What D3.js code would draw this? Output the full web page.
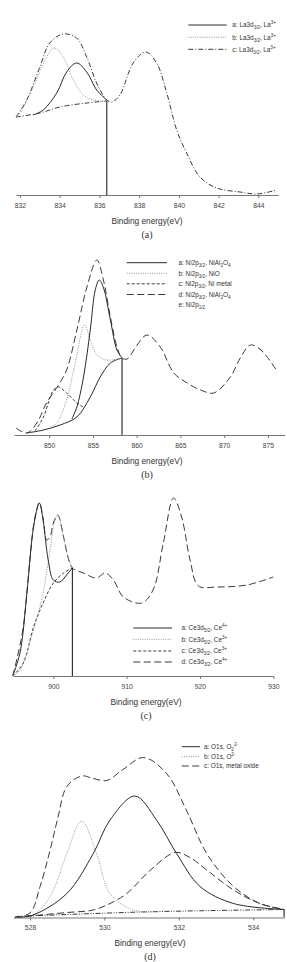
<!DOCTYPE html>
<html><head><meta charset="utf-8">
<script src="https://cdn.jsdelivr.net/npm/d3@7/dist/d3.min.js"></script>
<style>body{margin:0;background:#fff}svg{display:block}</style>
</head><body>
<svg id="c" width="287" height="962"></svg>
<script>
// ---------- Panel (a) La3d ----------
const aEnvX = [831.8,832.34,833.0,833.5,834.18,834.85,835.36,835.86,836.37,836.62,837.03,837.7,838.33,838.88,839.39,839.89,840.39,841.06,841.9,843.08,843.92,844.93];
const aEnvY = [78,95,128,152,161,157,138,112,95,93,100,132,143,132,102,65,42,18,7,3,1,5];
const aBgX = [831.8,833.0,834.0,835.36,836.37];
const aBgY = [78,82,88,92,94];
const aSolX = [832.67,833.17,833.85,834.35,834.85,835.36,835.86,836.37];
const aSolY = [80,85,102,123,132,123,105,95];
const aDotX = [831.8,832.0,832.67,833.34,833.73,834.18,834.68,835.19,835.69,836.37];
const aDotY = [78,82,108,138,147,138,115,100,95,94];
const aCut = 836.37, aCutTop = 94;
const aTicks = [832,834,836,838,840,842,844];
const aLegend = ["a: La3d_{3/2}, La^{3+}","b: La3d_{3/2}, La^{3+}","c: La3d_{3/2}, La^{3+}"];

// ---------- Panel (b) Ni2p ----------
const bEnvX = [846.22,847.45,848.6,849.7,851.07,852.0,853.17,854.32,855.46,856.2,857.0,857.75,858.33,858.9,860.05,861.2,862.7,864.24,865.77,867.3,868.8,870.7,871.9,873.0,874.2,876.1];
const bEnvY = [7,2,12,32,50,65,105,148,175,155,118,88,77,76,90,100,88,62,52,45,42,58,78,90,85,63];
const bSolX = [852.6,853.17,853.93,854.7,855.27,855.73,856.22,857.0,857.75,858.33];
const bSolY = [16,28,58,105,145,155,147,115,85,77];
const bDotX = [850.2,850.88,852.0,852.98,854.04,854.7,855.46,856.6,858.33];
const bDotY = [8,12,35,72,110,95,80,75,77];
const bDashX = [848.4,849.35,850.5,851.07,852.0,853.17,853.9];
const bDashY = [4,18,45,48,42,32,28];
const bBgX = [847.45,849.35,851.26,853.17,854.7,855.84,857.0,858.33];
const bBgY = [2,5,10,18,38,58,72,77];
const bCut = 858.33, bCutTop = 77;
const bTicks = [850,855,860,865,870,875];
const bLegend = ["a: Ni2p_{3/2}, NiAl_{2}O_{4}","b: Ni2p_{3/2}, NiO","c: Ni2p_{3/2}, Ni metal","d: Ni2p_{3/2}, NiAl_{2}O_{4}","e: Ni2p_{1/2}"];

// ---------- Panel (c) Ce3d ----------
const cEnvX = [894.46,895.0,895.9,896.8,897.5,898.1,898.6,899.1,899.55,900.0,900.6,901.4,902.0,902.6,904.1,905.9,907.05,908.2,909.55,912.06,913.6,915.0,916.4,917.5,918.65,919.8,922.3,926.4,930];
const cEnvY = [0,16,49,116,159,173,158,136,139,153,161,139,119,108,103,98,103,96,79,73,86,133,178,159,116,90,89,91,99];
const cSolX = [894.5,895.45,896.4,897.3,898.1,898.6,899.3,900.0,900.9,901.8,902.6];
const cSolY = [1,23,83,149,173,156,116,96,94,101,108];
const cDotX = [894.5,895.45,897.3,898.6,899.55,900.1,900.6,901.4,902.0,902.6];
const cDotY = [0,6,46,83,126,152,161,139,119,108];
const cBgX = [894.46,895.9,897.3,898.6,900.0,901.4,902.6];
const cBgY = [0,13,49,73,93,103,108];
const cCut = 902.6, cCutTop = 108;
const cTicks = [900,910,920,930];
const cLegend = ["a: Ce3d_{5/2}, Ce^{4+}","b: Ce3d_{5/2}, Ce^{3+}","c: Ce3d_{3/2}, Ce^{3+}","d: Ce3d_{3/2}, Ce^{4+}"];

// ---------- Panel (d) O1s ----------
const dEnvX = [527.6,528.0,528.27,528.54,528.75,528.99,529.39,529.7,530.06,530.5,531.05,531.67,532.2,532.75,533.47,534.18,534.83];
const dEnvY = [0,4.5,31,67.5,100,131,141.5,139,137,148,160,144,107.5,64,31,14,8];
const dSolX = [527.6,528.08,528.99,529.7,530.15,530.82,531.4,531.94,532.57,533.47,534.83];
const dSolY = [0,2.5,24,64,97.5,121.5,97.5,64,31,14,8];
const dDotX = [527.6,528.08,528.54,528.99,529.39,529.79,530.15,530.78,531.5];
const dDotY = [0,2.5,21,64,96.5,64,24,7.5,6];
const dDashX = [527.6,528.08,529.0,529.7,530.15,530.6,531.24,531.9,532.3,532.75,533.47,534.18,534.83];
const dDashY = [0,1.8,5,7.5,14,24,47.5,65,60,47.5,27.5,14,8];
const dBgX = [527.6,529.0,531.0,533.0,534.83];
const dBgY = [1,3,5.5,7,8];
const dCut = 534.83, dCutTop = 8;
const dTicks = [528,530,532,534];
const dLegend = ["a: O1s, O_{2}^{2-}","b: O1s, O^{2-}","c: O1s, metal oxide"];

const STY = {
  solid:   {c:"#2a2a2a", d:null, w:1},
  dot:     {c:"#8a8a8a", d:"1,1.3", w:0.9},
  dashdot: {c:"#3a3a3a", d:"5,2,1,2", w:1},
  dashdotdot: {c:"#3a3a3a", d:"5,1.5,1,1.5,1,1.5", w:1},
  sdash:   {c:"#3a3a3a", d:"3,2", w:1},
  ldash:   {c:"#3a3a3a", d:"7,3.5", w:1}
};

const svg = d3.select("#c");

function richText(sel, str){
  const re = /(_\{[^}]*\}|\^\{[^}]*\})/g;
  const parts = str.split(re).filter(s=>s.length);
  parts.forEach(p=>{
    if(p.startsWith("_{")){
      sel.append("tspan").attr("font-size","4.6px").attr("baseline-shift","-1.6").text(p.slice(2,-1));
    } else if(p.startsWith("^{")){
      sel.append("tspan").attr("font-size","4.6px").attr("baseline-shift","2.6").text(p.slice(2,-1));
    } else {
      sel.append("tspan").text(p);
    }
  });
}

function panel(cfg){
  const g = svg.append("g");
  const x = d3.scaleLinear().domain(cfg.domain).range(cfg.xr);
  const y = d3.scaleLinear().domain([0,100]).range([cfg.axisY, cfg.axisY-100]);
  const line = d3.line().x(d=>x(d[0])).y(d=>y(d[1])).curve(d3.curveCatmullRom.alpha(0.5));
  cfg.series.forEach(s=>{
    const st = STY[s.style];
    g.append("path").datum(d3.zip(s.x, s.y)).attr("d", line)
      .attr("fill","none").attr("stroke",st.c).attr("stroke-width",st.w)
      .attr("stroke-dasharray",st.d);
  });
  // vertical cut line
  g.append("line").attr("x1",x(cfg.cut)).attr("x2",x(cfg.cut))
    .attr("y1",y(0)).attr("y2",y(cfg.cutTop)).attr("stroke","#222").attr("stroke-width",1.1);
  // axis
  const ax = g.append("g").attr("transform",`translate(0,${cfg.axisY})`)
    .call(d3.axisBottom(x).tickValues(cfg.ticks).tickSize(3).tickPadding(5).tickSizeOuter(0));
  ax.select(".domain").attr("stroke","#777");
  ax.selectAll(".tick line").attr("stroke","#777");
  ax.selectAll("text").attr("font-family","Liberation Sans, Arial, sans-serif").attr("font-size","6.8px").attr("fill","#444");
  g.append("text").attr("x",cfg.titleX).attr("y",cfg.axisY+28.5).attr("text-anchor","middle")
    .attr("font-family","Liberation Sans, Arial, sans-serif").attr("font-size","8.3px").attr("fill","#333")
    .text("Binding energy(eV)");
  g.append("text").attr("x",cfg.titleX).attr("y",cfg.axisY+42.5).attr("text-anchor","middle")
    .attr("font-family","Liberation Serif, Times New Roman, serif").attr("font-size","10px").attr("fill","#333")
    .text(cfg.label);
  // legend
  cfg.legend.forEach((t,i)=>{
    const yy = cfg.leg.y[i];
    const stn = cfg.leg.styles[i];
    if(stn){
      const st = STY[stn];
      g.append("line").attr("x1",cfg.leg.x0).attr("x2",cfg.leg.x1).attr("y1",yy).attr("y2",yy)
        .attr("stroke",st.c).attr("stroke-width",st.w).attr("stroke-dasharray",st.d);
    }
    const tx = g.append("text").attr("x",cfg.leg.tx).attr("y",yy+2.2)
      .attr("font-family","Liberation Sans, Arial, sans-serif").attr("font-size","6.4px").attr("fill","#333");
    richText(tx, t);
  });
}

panel({domain:[831.8,845.0], xr:[16,278.2], axisY:195, ticks:aTicks, cut:aCut, cutTop:aCutTop, titleX:147, label:"(a)",
  series:[
    {x:aEnvX,y:aEnvY,style:"dashdot"},
    {x:aBgX,y:aBgY,style:"dashdot"},
    {x:aDotX,y:aDotY,style:"dot"},
    {x:aSolX,y:aSolY,style:"solid"}
  ],
  legend:aLegend, leg:{x0:188.3,x1:226.7,tx:232.3,y:[25,37.3,49.3],styles:["solid","dot","dashdot"]}
});

panel({domain:[846.0,876.9], xr:[14.1,284.6], axisY:435, ticks:bTicks, cut:bCut, cutTop:bCutTop, titleX:147, label:"(b)",
  series:[
    {x:bEnvX,y:bEnvY,style:"ldash"},
    {x:bBgX,y:bBgY,style:"solid"},
    {x:bDashX,y:bDashY,style:"sdash"},
    {x:bDotX,y:bDotY,style:"dot"},
    {x:bSolX,y:bSolY,style:"solid"}
  ],
  legend:bLegend, leg:{x0:126.7,x1:167,tx:178.5,y:[262.7,273.3,283.8,294.5,305.2],styles:["solid","dot","sdash","ldash",null]}
});

panel({domain:[894.5,930], xr:[13.0,273.3], axisY:676, ticks:cTicks, cut:cCut, cutTop:cCutTop, titleX:146, label:"(c)",
  series:[
    {x:cEnvX,y:cEnvY,style:"ldash"},
    {x:cBgX,y:cBgY,style:"sdash"},
    {x:cDotX,y:cDotY,style:"dot"},
    {x:cSolX,y:cSolY,style:"solid"}
  ],
  legend:cLegend, leg:{x0:133.3,x1:172,tx:181.5,y:[628,639.3,651,662],styles:["solid","dot","sdash","ldash"]}
});

panel({domain:[527.55,534.83], xr:[13.3,284.1], axisY:917.5, ticks:dTicks, cut:dCut, cutTop:dCutTop, titleX:150, label:"(d)",
  series:[
    {x:dEnvX,y:dEnvY,style:"ldash"},
    {x:dBgX,y:dBgY,style:"dashdotdot"},
    {x:dDashX,y:dDashY,style:"ldash"},
    {x:dDotX,y:dDotY,style:"dot"},
    {x:dSolX,y:dSolY,style:"solid"}
  ],
  legend:dLegend, leg:{x0:181.7,x1:200,tx:204,y:[746.7,756.7,766],styles:["solid","dot","ldash"]}
});
</script>
</body></html>
